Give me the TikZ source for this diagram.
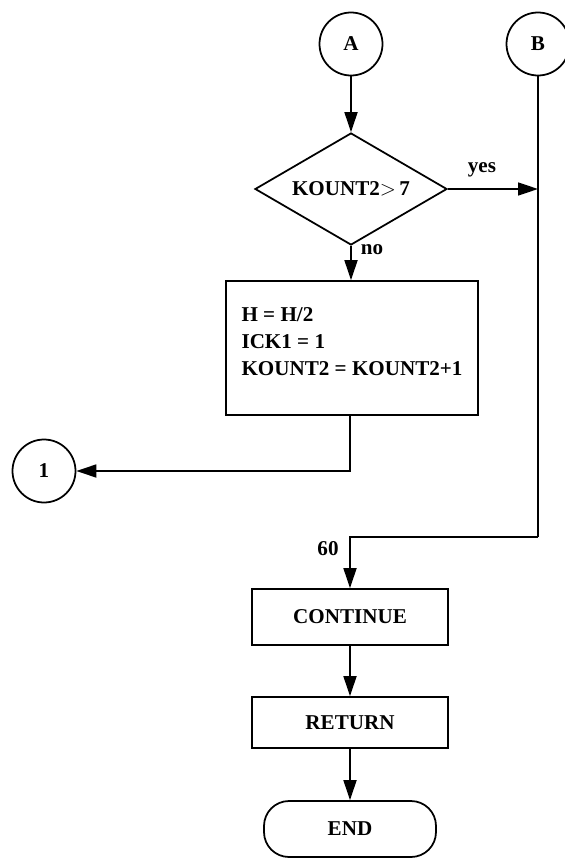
\documentclass[tikz,border=0pt]{standalone}
\usepackage{fontspec}
\setmainfont{Liberation Serif}
\usetikzlibrary{arrows.meta,shapes.geometric}
\tikzset{
  block/.style={draw,rectangle,minimum width=3.92cm,minimum height=1.1cm,align=center},
  decision/.style={draw,diamond,aspect=1.7,minimum width=3.84cm,minimum height=2.24cm,inner sep=0pt},
  conn/.style={draw,circle,minimum size=1.26cm,inner sep=0pt},
  term/.style={draw,rectangle,rounded corners=0.5cm,minimum width=3.44cm,minimum height=1.12cm}
}

\begin{document}
\begin{tikzpicture}[>={Triangle[length=0.4cm,width=0.26cm]},line width=1pt,
    font=\fontsize{12}{15.4}\selectfont\bfseries]
  \useasboundingbox (0,0) rectangle (11.3,-17.18);
  \node[conn] (a) at (7.02,-0.88) {A};
  \node[conn] (b) at (10.76,-0.88) {B};
  \node[decision] (d) at (7.02,-3.78) {KOUNT2$>$\,7};
  \node[block,minimum width=5.04cm,minimum height=2.68cm,align=left] (p) at (7.04,-6.96)
    {H = H/2\\ICK1 = 1\\KOUNT2 = KOUNT2+1\\[-8pt]};
  \node[conn] (c1) at (0.88,-9.42) {1};
  \node[block,minimum height=1.12cm] (cont) at (7.0,-12.34) {CONTINUE};
  \node[block,minimum height=1.02cm] (ret) at (7.0,-14.45) {RETURN};
  \node[term] (e) at (7.0,-16.58) {END};
  \coordinate (k1) at (7.0,-9.42);
  \coordinate (k2) at (10.76,-10.74);

  \draw[->] (a) -- (d);
  \draw[->] (d.south) -- (d.south |- p.north);
  \draw[->] (d.east) -- (d.east -| b);
  \draw (b) -- (k2);
  \draw[->] (k2) -| (cont.north);
  \draw[->] (p.south -| k1) -- (k1) -- (c1);
  \draw[->] (cont) -- (ret);
  \draw[->] (ret) -- (e);

  \node (yes) at (9.64,-3.40) {yes};
  \node (no) at (7.44,-5.0) {no};
  \node (l60) at (6.56,-10.98) {60};
\end{tikzpicture}
\end{document}
